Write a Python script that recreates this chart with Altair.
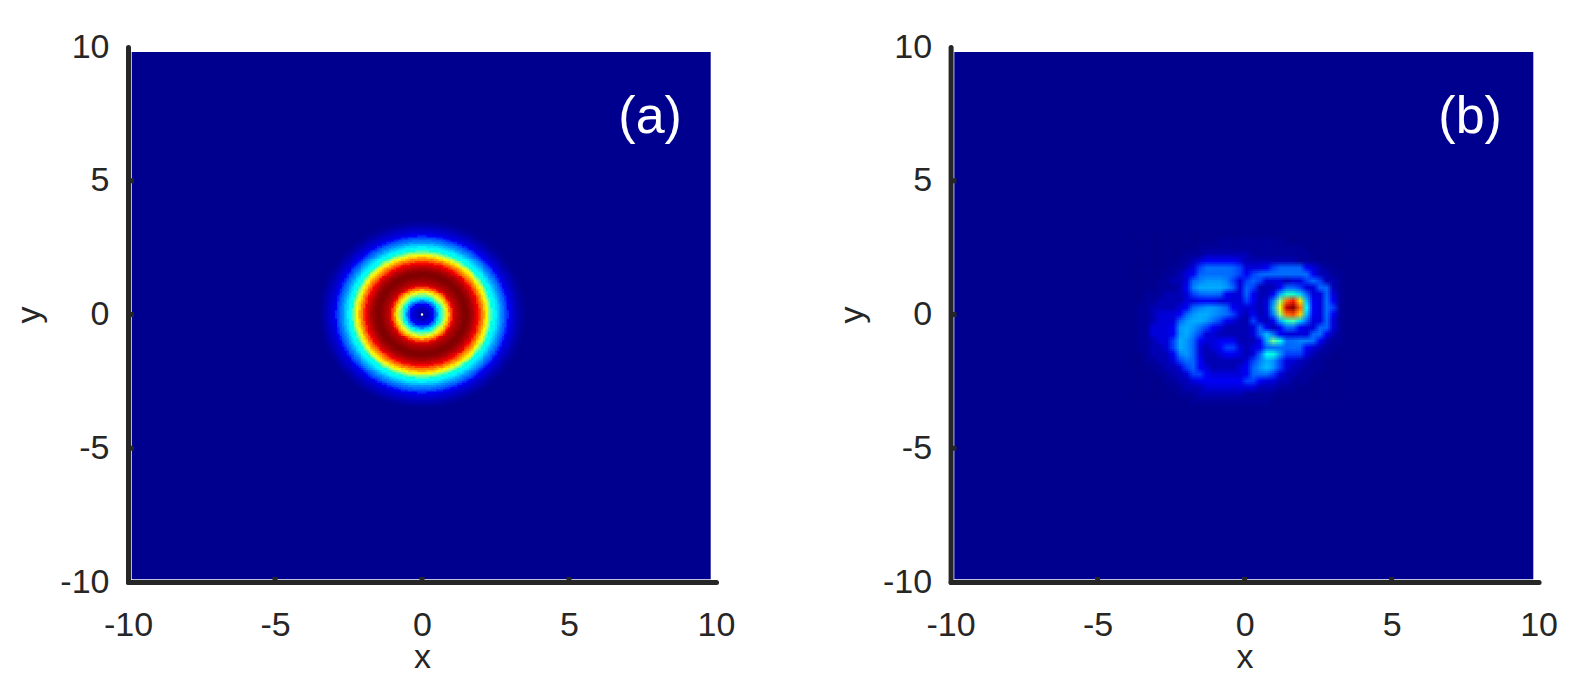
import altair as alt
import pandas as pd

# colour stops of the picture's colour map
COLOR_STOPS = [0, 0.125, 0.375, 0.625, 0.875, 1]
COLOR_RANGE = ["#00008f", "#0000ff", "#00ffff", "#ffff00", "#ff0000", "#800000"]
TICKS = [-10, -5, 0, 5, 10]
INNER_TICKS = [-5, 0, 5]
INK = "#262626"
FONT = "Liberation Sans"

# panel (a): intensity read along a radius, one value per 0.05 of distance
RADIAL_A = [
    0.02, 0.025, 0.035, 0.045, 0.06, 0.07, 0.085, 0.105, 0.125, 0.16,
    0.21, 0.28, 0.36, 0.43, 0.50, 0.55, 0.60, 0.66, 0.72, 0.79,
    0.85, 0.89, 0.92, 0.94, 0.955, 0.965, 0.975, 0.985, 0.995, 1.0,
    1.0, 0.995, 0.985, 0.975, 0.96, 0.945, 0.925, 0.905, 0.885, 0.86,
    0.825, 0.785, 0.74, 0.68, 0.635, 0.585, 0.53, 0.48, 0.43, 0.39,
    0.355, 0.32, 0.285, 0.25, 0.22, 0.195, 0.175, 0.155, 0.135, 0.115,
    0.10, 0.085, 0.075, 0.065, 0.055, 0.045, 0.035, 0.025, 0.015, 0.008, 0.0,
]

# panel (b): intensity read cell by cell, one character per cell (base 36, x 0.03)
ROWS_B = [
    "000000000000000000000000000000000",
    "000000000000011111111110000000000",
    "000000000011111111111111110000000",
    "000000001112222222111111111000000",
    "000000011234444432222222211100000",
    "000000112357777653334566664321100",
    "00000" + "1123467777" + "654567" + "77777" + "7422110",
    "000011223" + "6899985" + "3565" + "333233" + "5752210",
    "00001112" + "48aaaa96" + "365222" + "46653366210",
    "001112223567764336422" + "4affc6336310",
    "001122223344433335423" + "8irtmb437410",
    "011222234689986433323" + "alvxrd437510",
    "011233346" + "9aa987532423" + "8irsnb437410",
    "01123336" + "9aa9754322532" + "4afgc6336310",
    "011333" + "49a97" + "5432222" + "364" + "246643366310",
    "0113334" + "9a85" + "3322222" + "36b" + "743333674210",
    "0112335" + "a964" + "3344422" + "24a" + "hd7788742110",
    "0112235" + "a963" + "2345532" + "346" + "776764321100",
    "00122248963" + "2234432" + "36d" + "e95553211000",
    "00112235764" + "2222223" + "58a" + "953322110000",
    "00011223564" + "3222234" + "69b" + "953221110000",
    "00001122355" + "4333334" + "677" + "532211100000",
    "00000112234" + "4444445" + "543" + "322111000000",
    "00000011222" + "33333333" + "222" + "111" + "00000000",
    "00000001112222222" + "11111" + "00000000000",
    "000000000" + "111111111111" + "000000000000",
]
LOW_LEVELS = {0: 0.0, 1: 0.015, 2: 0.045, 7: 0.19, 8: 0.21, 9: 0.235, 10: 0.26, 11: 0.285, 12: 0.31}
ORIGIN_B = (-3.898, 3.121)
CELL_B = (0.2268, 0.2492)
CELL_A = 0.08
SEAM = 0.04
SHIFTS = [-1 / 3, 0, 1 / 3]


def cells_a():
    rows = []
    n = 45
    for i in range(-n, n):
        for j in range(-n, n):
            cx = (i + 0.5) * CELL_A
            cy = (j + 0.5) * CELL_A
            r = (cx * cx + cy * cy) ** 0.5
            k = min(int(round(r / 0.05)), len(RADIAL_A) - 1)
            if RADIAL_A[k] > 0:
                rows.append(dict(x=i * CELL_A, x2=(i + 1) * CELL_A + SEAM,
                                 y=j * CELL_A, y2=(j + 1) * CELL_A + SEAM, v=RADIAL_A[k]))
    return pd.DataFrame(rows)


def cells_b(sx, sy, seam):
    rows = []
    for r, row in enumerate(ROWS_B):
        for c, ch in enumerate(row):
            n = int(ch, 36)
            v = LOW_LEVELS.get(n, n * 0.03)
            x0 = ORIGIN_B[0] + (c + sx) * CELL_B[0]
            y0 = ORIGIN_B[1] - (r + sy) * CELL_B[1]
            rows.append(dict(x=x0, x2=x0 + CELL_B[0] + seam, y=y0, y2=y0 - CELL_B[1] - seam, v=v))
    return pd.DataFrame(rows)


xs = alt.Scale(domain=[-10, 10], nice=False, zero=False)
ys = alt.Scale(domain=[-10, 10], nice=False, zero=False)
color = alt.Color("v:Q", legend=None, scale=alt.Scale(domain=COLOR_STOPS, range=COLOR_RANGE, clamp=True))


def axis(title, pad, tpad):
    return alt.Axis(
        values=TICKS, title=title, grid=False, ticks=False, domainColor=INK, domainWidth=5,
        domainCap="round", labelFont=FONT, labelFontSize=34, labelColor=INK, labelPadding=pad,
        labelFlush=False, labelOverlap=False, labelBound=False, labelExpr="'' + datum.value",
        titleFont=FONT, titleFontSize=34, titleColor=INK, titleFontWeight="normal", titlePadding=tpad,
    )


AX = axis("x", 26, -2)
AY = axis("y", 19, 13)
EX = lambda f: alt.X(f, scale=xs, axis=AX)
EY = lambda f: alt.Y(f, scale=ys, axis=AY)


def rects(df, opacity=1.0):
    return alt.Chart(df).mark_rect(opacity=opacity, strokeWidth=0).encode(
        x=EX("x:Q"), x2="x2:Q", y=EY("y:Q"), y2="y2:Q", color=color)


def panel(layers, label, lx, ly):
    base = alt.Chart(pd.DataFrame({"x": [-9.874], "x2": [9.82], "y": [-9.9], "y2": [9.81]})).mark_rect(
        color="#00008f", strokeWidth=0).encode(
        x=EX("x:Q"), x2="x2:Q", y=EY("y:Q"), y2="y2:Q")
    xt = alt.Chart(pd.DataFrame({"x": INNER_TICKS, "a": [-10] * 3, "b": [-9.813] * 3})).mark_rule(
        color=INK, strokeWidth=5).encode(x=EX("x:Q"), y=EY("a:Q"), y2="b:Q")
    yt = alt.Chart(pd.DataFrame({"y": INNER_TICKS, "a": [-10] * 3, "b": [-9.8] * 3})).mark_rule(
        color=INK, strokeWidth=5).encode(y=EY("y:Q"), x=EX("a:Q"), x2="b:Q")
    txt = alt.Chart(pd.DataFrame({"x": [lx], "y": [ly], "t": [label]})).mark_text(
        font=FONT, fontSize=52, color="white", align="center", baseline="middle").encode(
        x=EX("x:Q"), y=EY("y:Q"), text="t:N")
    return alt.layer(base, *layers, xt, yt, txt).properties(width=588, height=535)


dot = alt.Chart(pd.DataFrame({"x": [0], "y": [0]})).mark_square(color="white", size=5, opacity=1).encode(
    x=EX("x:Q"), y=EY("y:Q"))
left = panel([rects(cells_a()), dot], "(a)", 7.76, 7.4)

layers_b = []
k = 1
for sy in SHIFTS:
    for sx in SHIFTS:
        layers_b.append(rects(cells_b(sx, sy, SEAM if k == 1 else 0), 1 / k))
        k += 1
right = panel(layers_b, "(b)", 7.67, 7.4)

chart = alt.hconcat(left, right, spacing=234.6, bounds="flush").resolve_scale(color="shared").properties(
    padding={"left": 4, "top": 22, "right": 0, "bottom": 0}
).configure_view(stroke=None)

chart.save("out.html", embed_options={"renderer": "svg", "actions": False})
